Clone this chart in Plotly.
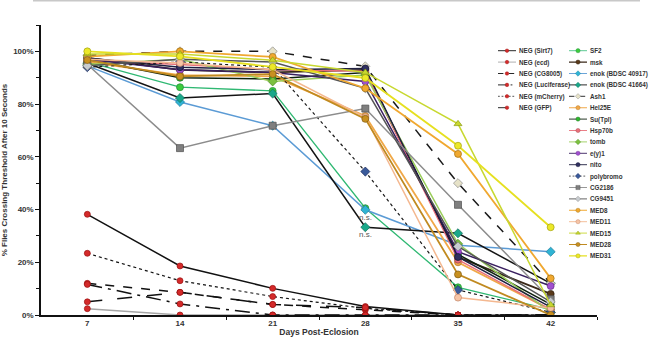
import plotly.graph_objects as go

days = [7, 14, 21, 28, 35, 42]
tick_labels = ["7", "14", "21", "28", "35", "42"]
y_ticks = [0, 20, 40, 60, 80, 100]
y_tick_labels = ["0%", "20%", "40%", "60%", "80%", "100%"]

neg_sirt7 = [38.2, 18.6, 10.1, 3.2, 0, 0]
neg_ecd = [2.4, 0, 0, 0, 0, 0]
neg_cg8005 = [12.0, 8.6, 4.0, 2.0, 0, 0]
neg_luciferase = [11.6, 4.2, 0, 0, 0, 0]
neg_mcherry = [23.4, 13.0, 7.0, 2.5, 0, 0]
neg_gfp = [5.0, 8.6, 4.0, 2.8, 0, 0]

sf2 = [96, 86.4, 85.0, 40.5, 10.5, 2]
msk = [97.5, 93, 92, 93, 22, 8]
enok_40917 = [94.5, 80.8, 71.8, 39.9, 26.5, 24]
enok_41664 = [95.5, 82.3, 84, 33.3, 31, 12]
ash1 = [98.5, 100, 100, 94.3, 50, 12]
hel25e = [96, 91, 90.5, 75.5, 20, 2]
su_tpl = [97, 90, 89.5, 92, 23, 4]
hsp70b = [96.5, 95, 93, 92.5, 21, 2]
tomb = [95, 97, 88.6, 91, 27, 1]
ey1 = [97, 93, 92, 88.6, 24, 11]
nito = [97.5, 94, 93, 93.5, 22, 3]
polybromo = [94, 96, 94, 54.4, 9.5, 1]
cg2186 = [95, 63.3, 71.8, 78.3, 41.8, 6]
cg9451 = [94.5, 97, 96, 86, 26, 5]
med8 = [98, 100, 97.9, 86, 61.1, 13.9]
med11 = [97, 95.6, 93, 75, 6.6, 2.7]
med15 = [99, 99, 96.6, 92, 72.5, 3.8]
med28 = [96.7, 90.5, 91.4, 74.4, 15.4, 0]
med31 = [100, 98.1, 94.1, 89.9, 64.2, 33.3]

RED = "#d42a2a"
series = [
    # name, values, line color, dash, width, symbol, marker color, marker outline, legend
    ("NEG (Sirt7)", neg_sirt7, "#111111", "solid", 1.5, "circle", RED, "#9a1010", "legend"),
    ("NEG (ecd)", neg_ecd, "#a6a6a6", "solid", 1.5, "circle", RED, "#9a1010", "legend"),
    ("NEG (CG8005)", neg_cg8005, "#111111", "dash", 1.5, "circle", RED, "#9a1010", "legend"),
    ("NEG (Luciferase)", neg_luciferase, "#111111", "longdashdot", 1.5, "circle", RED, "#9a1010", "legend"),
    ("NEG (mCherry)", neg_mcherry, "#111111", "dot", 1.2, "circle", RED, "#9a1010", "legend"),
    ("NEG (GFP)", neg_gfp, "#111111", "longdash", 1.5, "circle", RED, "#9a1010", "legend"),
    ("SF2", sf2, "#2fb872", "solid", 1.3, "circle", "#3ccc3c", "#1f8a3a", "legend2"),
    ("msk", msk, "#3a2818", "solid", 1.8, "circle", "#5a3a1a", "#2a1a0a", "legend2"),
    ("enok (BDSC 40917)", enok_40917, "#5b9bd5", "solid", 1.5, "diamond", "#2fb4d4", "#1a7a9a", "legend2"),
    ("enok (BDSC 41664)", enok_41664, "#141414", "solid", 1.5, "diamond", "#1aa88a", "#0e6a58", "legend2"),
    ("Ash1", ash1, "#1a1a1a", "dash", 1.5, "diamond", "#e6e2c8", "#8a8a8a", "legend2"),
    ("Hel25E", hel25e, "#f0a848", "solid", 1.8, "circle", "#f0a848", "#b07020", "legend2"),
    ("Su(Tpl)", su_tpl, "#0e200e", "solid", 1.5, "circle", "#2eb82e", "#1a6a1a", "legend2"),
    ("Hsp70b", hsp70b, "#e8707a", "solid", 1.5, "circle", "#e8707a", "#a04048", "legend2"),
    ("tomb", tomb, "#9acd5a", "solid", 1.5, "diamond", "#7cc040", "#4a8a20", "legend2"),
    ("e(y)1", ey1, "#3a2060", "solid", 1.5, "circle", "#a050d0", "#6a2a8a", "legend2"),
    ("nito", nito, "#202040", "solid", 1.5, "circle", "#303060", "#101030", "legend2"),
    ("polybromo", polybromo, "#1a1a1a", "dot", 1.2, "diamond", "#3a5a9a", "#1a2a5a", "legend2"),
    ("CG2186", cg2186, "#8c8c8c", "solid", 1.5, "square", "#7f7f7f", "#505050", "legend2"),
    ("CG9451", cg9451, "#555555", "solid", 1.5, "diamond", "#c8ccd0", "#808080", "legend2"),
    ("MED8", med8, "#f0a830", "solid", 1.8, "circle", "#f0a830", "#a07010", "legend2"),
    ("MED11", med11, "#f4b890", "solid", 1.5, "circle", "#f6c4a6", "#c08060", "legend2"),
    ("MED15", med15, "#c8d830", "solid", 1.5, "triangle-up", "#c8d830", "#8a9a10", "legend2"),
    ("MED28", med28, "#c08a20", "solid", 1.8, "circle", "#c89020", "#805a10", "legend2"),
    ("MED31", med31, "#e6e020", "solid", 1.8, "circle", "#ece828", "#a0a010", "legend2"),
]

fig = go.Figure()
for name, vals, lc, dash, lw, sym, mc, mo, lg in series:
    is_neg = lg == "legend"
    fig.add_trace(go.Scatter(
        x=days, y=vals, name=name, mode="lines+markers",
        line=dict(color=lc, dash=dash, width=lw),
        marker=dict(symbol=sym, color=mc, size=6 if is_neg else 7,
                    line=dict(color=mo, width=0.7)),
        legend=lg,
    ))

# split the long legend column into two stacked legends
for i, tr in enumerate(fig.data):
    if i >= 6 + 10:
        tr.legend = "legend3"

SCALE = 0.6
leg_font = dict(family="Liberation Sans", size=10.5, color="#333333", weight="bold")
common_leg = dict(font=leg_font, bgcolor="rgba(0,0,0,0)", xanchor="left", yanchor="top",
                  itemwidth=30, tracegroupgap=0)

L, R, T, B = 41, 57, 25, 25
W, H = 654, 340
pw, ph = W - L - R, H - T - B


def px_to_paper(xp, yp):
    return (xp - L) / pw, (H - B - yp) / ph


lx1, ly1 = px_to_paper(495, 42)
lx2, ly2 = px_to_paper(566, 42)
lx3, ly3 = px_to_paper(566, 42 + 10 * 19 * SCALE)

fig.update_layout(
    width=W, height=H,
    margin=dict(l=L, r=R, t=T, b=B, autoexpand=False),
    paper_bgcolor="white", plot_bgcolor="white",
    font=dict(family="Liberation Sans", color="#333333"),
    showlegend=True,
    legend=dict(x=lx1, y=ly1, **common_leg),
    legend2=dict(x=lx2, y=ly2, **common_leg),
    legend3=dict(x=lx3, y=ly3, **common_leg),
    xaxis=dict(
        range=[3.5, 45.5], tickvals=days, ticktext=tick_labels, ticks="",
        showline=True, linecolor="#111111", linewidth=1.5, showgrid=False, zeroline=False,
        tickfont=dict(size=8, weight="bold", color="#333333"),
        minor=dict(tickvals=[10.5, 17.5, 24.5, 31.5, 38.5, 45.5], ticks="outside",
                   ticklen=3, tickcolor="#111111", showgrid=False),
        title=dict(text="Days Post-Eclosion", font=dict(size=8.5, weight="bold", color="#333333"),
                   standoff=2),
        automargin=False,
    ),
    yaxis=dict(
        range=[0, 110], tickvals=y_ticks, ticktext=y_tick_labels,
        ticks="outside", ticklen=4, tickcolor="#111111",
        showline=True, linecolor="#111111", linewidth=1.5, showgrid=False, zeroline=False,
        tickfont=dict(size=8, weight="bold", color="#333333"),
        minor=dict(dtick=10, ticks="outside", ticklen=3, tickcolor="#111111", showgrid=False),
        title=dict(text="% Flies Crossing Threshold After 10 Seconds",
                   font=dict(size=8, weight="bold", color="#333333"), standoff=4),
        automargin=False,
    ),
)

fig.add_annotation(x=28, y=37.1, text="n.s.", showarrow=False,
                   font=dict(size=8, color="#555555", family="Liberation Sans"))
fig.add_annotation(x=28, y=30.7, text="n.s.", showarrow=False,
                   font=dict(size=8, color="#555555", family="Liberation Sans"))

tx0, ty = px_to_paper(33, 0.8)
tx1, _ = px_to_paper(640, 0.8)
fig.add_shape(type="line", xref="paper", yref="paper", x0=tx0, x1=tx1, y0=ty, y1=ty,
              line=dict(color="#c8c8c8", width=1.5))

post = """
document.body.style.margin = '0';
var gd = document.getElementById('{plot_id}');
gd.querySelectorAll('.infolayer > g').forEach(function(g){
  var c = g.getAttribute('class') || '';
  if (c.indexOf('legend') === 0) {
    var t = g.getAttribute('transform') || '';
    g.setAttribute('transform', t + ' scale(%s)');
  }
});
""" % SCALE

fig.write_html("out.html", post_script=post, config={"displayModeBar": False})
